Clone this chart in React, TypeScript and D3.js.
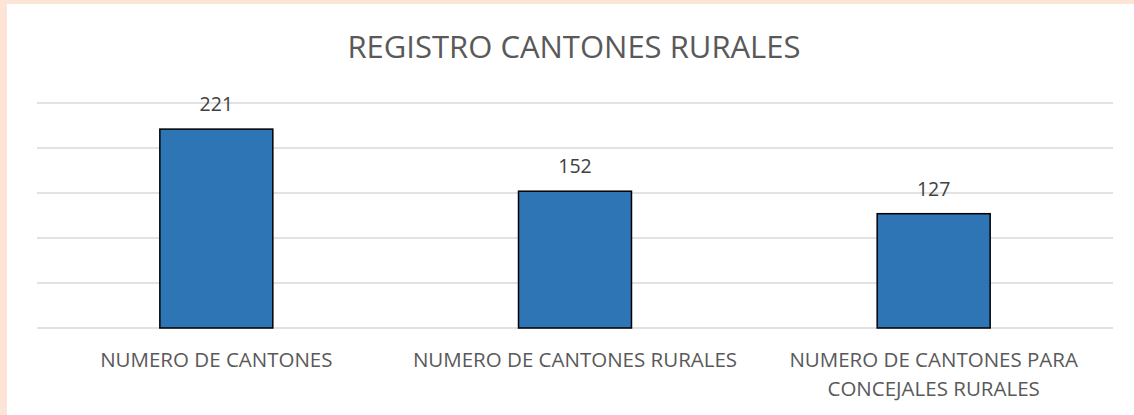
import React, { useEffect, useRef } from "react";
import * as d3 from "d3";

const categories = [
  "NUMERO DE CANTONES",
  "NUMERO DE CANTONES RURALES",
  "NUMERO DE CANTONES PARA CONCEJALES RURALES",
];
const values = [221, 152, 127];
const gridTicks = [0, 50, 100, 150, 200, 250];
const title = "REGISTRO CANTONES RURALES";

const W = 1134;
const H = 415;

export default function App() {
  const ref = useRef<SVGSVGElement>(null);

  useEffect(() => {
    const svg = d3.select(ref.current);
    svg.selectAll("*").remove();
    const font = "'Open Sans', sans-serif";
    const textColor = "#595959";

    svg.append("rect").attr("x", 0).attr("y", 0).attr("width", W).attr("height", H).attr("fill", "#FCE4D6");
    svg.append("rect").attr("x", 7).attr("y", 4).attr("width", W - 7).attr("height", H - 4).attr("fill", "#ffffff");

    const x = d3.scaleBand<string>().domain(categories).range([37, 1113]).padding(0);
    const y = d3.scaleLinear().domain([0, 250]).range([328, 103]);

    svg
      .append("g")
      .selectAll("line")
      .data(gridTicks)
      .join("line")
      .attr("x1", 37)
      .attr("x2", 1113)
      .attr("y1", (d) => y(d))
      .attr("y2", (d) => y(d))
      .attr("stroke", "#d9d9d9")
      .attr("stroke-width", 1.5);

    const barW = x.bandwidth() * 0.315;
    svg
      .append("g")
      .selectAll("rect")
      .data(values)
      .join("rect")
      .attr("x", (d, i) => (x(categories[i]) as number) + x.bandwidth() / 2 - barW / 2)
      .attr("y", (d) => y(d))
      .attr("width", barW)
      .attr("height", (d) => y(0) - y(d))
      .attr("fill", "#2E75B6")
      .attr("stroke", "#000000")
      .attr("stroke-width", 1.5);

    svg
      .append("g")
      .selectAll("text")
      .data(values)
      .join("text")
      .attr("x", (d, i) => (x(categories[i]) as number) + x.bandwidth() / 2)
      .attr("y", (d) => y(d) - 18)
      .attr("text-anchor", "middle")
      .attr("font-family", font)
      .attr("font-size", 19.5)
      .attr("fill", "#404040")
      .text((d) => String(d));

    svg
      .append("text")
      .attr("x", 574)
      .attr("y", 58)
      .attr("text-anchor", "middle")
      .attr("font-family", font)
      .attr("font-size", 31)
      .attr("fill", textColor)
      .text(title);

    const labels = svg
      .append("g")
      .selectAll("text")
      .data(categories)
      .join("text")
      .attr("x", (d) => (x(d) as number) + x.bandwidth() / 2)
      .attr("y", 367)
      .attr("text-anchor", "middle")
      .attr("font-family", font)
      .attr("font-size", 20.5)
      .attr("fill", textColor);

    const maxW = 340;
    labels.each(function (d) {
      const t = d3.select(this);
      const cx = t.attr("x");
      const words = d.split(" ");
      let line: string[] = [];
      let tspan = t.append("tspan").attr("x", cx).attr("dy", 0);
      for (const w of words) {
        line.push(w);
        tspan.text(line.join(" "));
        if ((tspan.node() as SVGTSpanElement).getComputedTextLength() > maxW && line.length > 1) {
          line.pop();
          tspan.text(line.join(" "));
          line = [w];
          tspan = t.append("tspan").attr("x", cx).attr("dy", 28.5).text(w);
        }
      }
    });
  }, []);

  return (
    <svg
      ref={ref}
      width={W}
      height={H}
      style={{ position: "absolute", left: 0, top: 0, display: "block" }}
    />
  );
}
